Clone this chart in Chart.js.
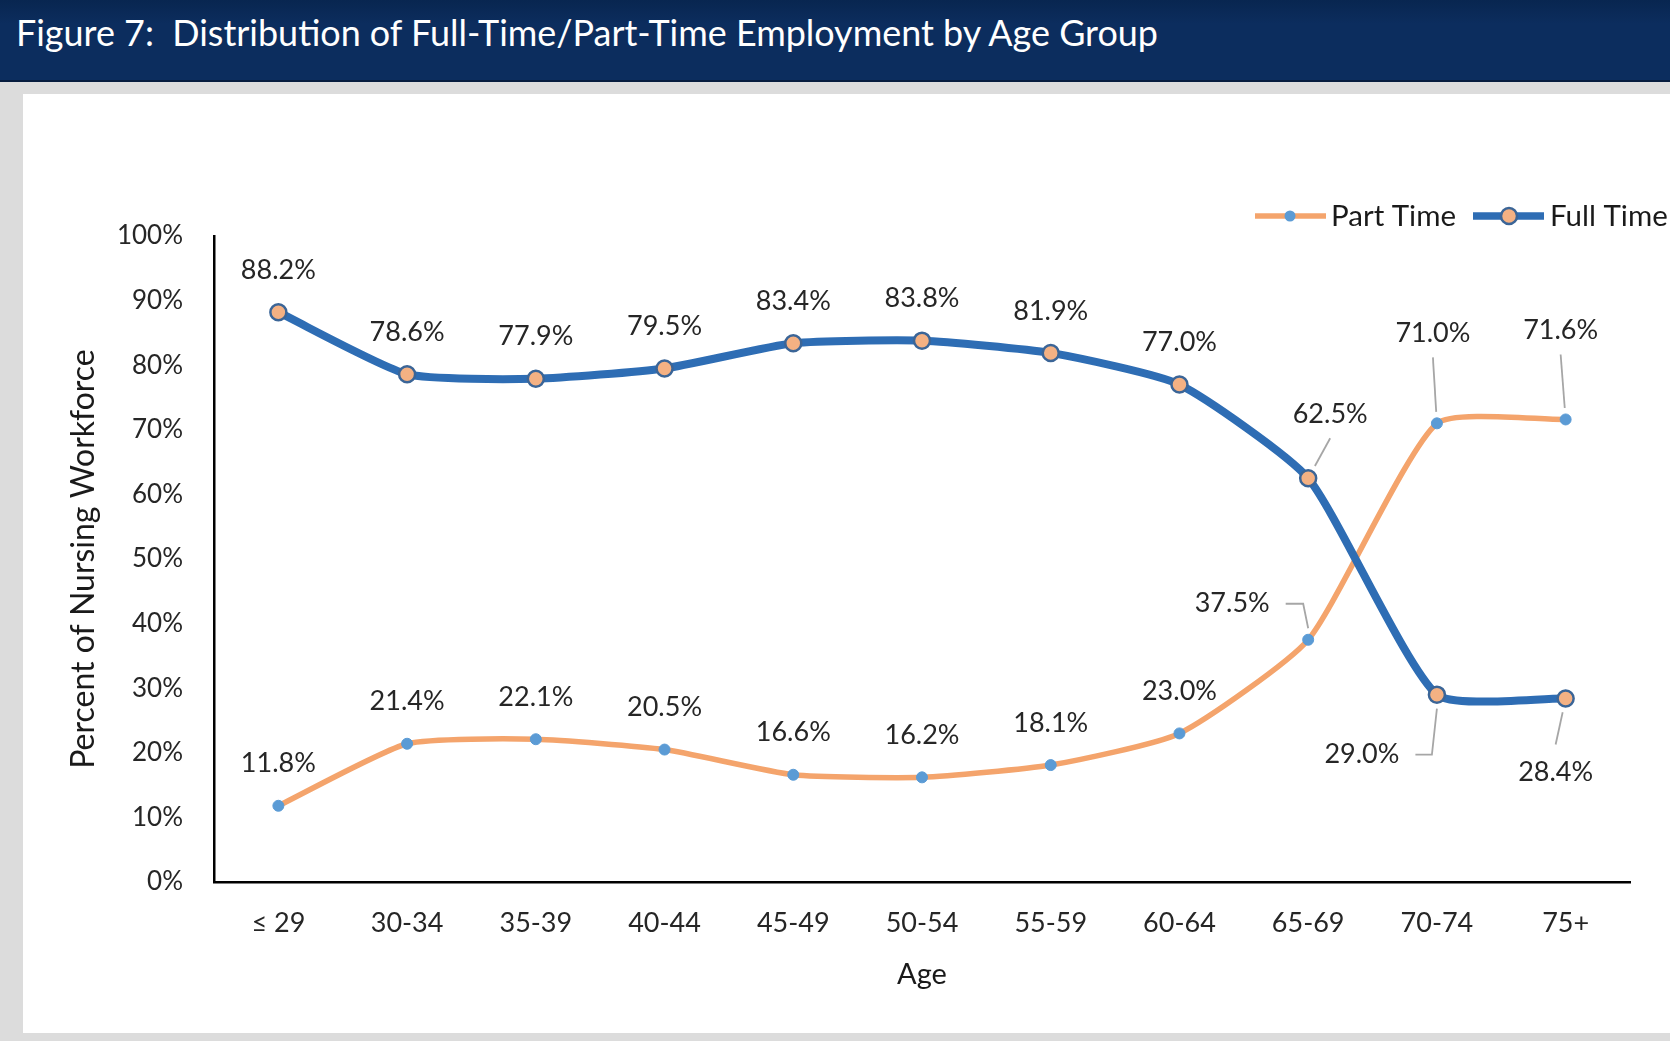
<!DOCTYPE html>
<html>
<head>
<meta charset="utf-8">
<script src="https://cdn.jsdelivr.net/npm/chart.js@4.4.1/dist/chart.umd.min.js"></script>
<style>
  html, body { margin: 0; padding: 0; }
  body { width: 1670px; height: 1041px; background: #dcdcdc; position: relative; overflow: hidden; font-family: Lato, sans-serif; }
  #header { position: absolute; left: 0; top: 0; width: 1670px; height: 80px; background: linear-gradient(#082650, #0c2d5e 30%, #0c2d5e); border-bottom: 2px solid #061c3e; }
  #title { position: absolute; left: 16px; top: 9px; color: #fff; font-size: 37px; white-space: nowrap; transform-origin: left center; }
  #panel { position: absolute; left: 23px; top: 94px; width: 1647px; height: 939px; background: #fff; }
  #chart { position: absolute; left: 0; top: 0; }
</style>
</head>
<body>
<div id="header"><span id="title">Figure 7:&nbsp; Distribution of Full-Time/Part-Time Employment by Age Group</span></div>
<div id="panel"></div>
<canvas id="chart" width="1670" height="1041"></canvas>
<script>
const ageGroups = ['≤ 29', '30-34', '35-39', '40-44', '45-49', '50-54', '55-59', '60-64', '65-69', '70-74', '75+'];
const fullTime = [88.2, 78.6, 77.9, 79.5, 83.4, 83.8, 81.9, 77.0, 62.5, 29.0, 28.4];
const partTime = [11.8, 21.4, 22.1, 20.5, 16.6, 16.2, 18.1, 23.0, 37.5, 71.0, 71.6];
const yTicks = [0, 10, 20, 30, 40, 50, 60, 70, 80, 90, 100];

// label placement (pixels from the point), and which ones get a leader line
const fullLabelPos = {8: [22, -64], 9: [-75, 60], 10: [-10, 74]};
const partLabelPos = {8: [-76, -36], 9: [-4, -90], 10: [-5, -89]};
const fullLeaders = {8: 'line', 9: 'elbow', 10: 'line'};
const partLeaders = {8: 'elbow', 9: 'line', 10: 'line'};

const BLUE = '#2e6db4';
const ORANGE = '#f4a46c';
const FONT = 'Lato, sans-serif';

// fit title to the width it has in the figure
(function () {
    var t = document.getElementById('title');
    var w = t.getBoundingClientRect().width;
    t.style.transform = 'scaleX(' + (1142 / w) + ')';
})();

function drawLeader(ctx, lx, ly, w, pt, r, type) {
    ctx.strokeStyle = '#a6a6a6';
    ctx.lineWidth = 1.8;
    ctx.beginPath();
    if (type === 'elbow') {
        var sx = lx + w / 2 + 16;
        var hx = pt.x - 5;
        ctx.moveTo(sx, ly);
        ctx.lineTo(hx, ly);
        var dy = pt.y > ly ? -(r + 6) : (r + 6);
        ctx.lineTo(pt.x, pt.y + dy);
    } else {
        var sy = pt.y > ly ? ly + 24 : ly - 28;
        var dx = pt.x - lx, dyy = pt.y - sy;
        var len = Math.sqrt(dx * dx + dyy * dyy);
        var k = (len - r - 6) / len;
        ctx.moveTo(lx, sy);
        ctx.lineTo(lx + dx * k, sy + dyy * k);
    }
    ctx.stroke();
}

const valueLabels = {
    id: 'valueLabels',
    afterDatasetsDraw(chart) {
        const ctx = chart.ctx;
        ctx.save();
        ctx.font = '27px ' + FONT;
        ctx.textAlign = 'center';
        ctx.textBaseline = 'middle';
        chart.data.datasets.forEach(function (ds, di) {
            const meta = chart.getDatasetMeta(di);
            meta.data.forEach(function (pt, i) {
                const o = ds.labelPos[i] || [0, -42];
                const lx = pt.x + o[0], ly = pt.y + o[1];
                const txt = ds.data[i].toFixed(1) + '%';
                const w = ctx.measureText(txt).width;
                if (ds.leaders[i]) drawLeader(ctx, lx, ly, w, pt, ds.pointRadius, ds.leaders[i]);
                ctx.fillStyle = '#262626';
                ctx.fillText(txt, lx, ly);
            });
        });
        ctx.restore();
    }
};

const legendBox = {
    id: 'legendBox',
    afterDraw(chart) {
        const ctx = chart.ctx;
        const y = 216;
        ctx.save();
        // Part Time
        ctx.strokeStyle = ORANGE;
        ctx.lineWidth = 5.5;
        ctx.beginPath(); ctx.moveTo(1255, y); ctx.lineTo(1326, y); ctx.stroke();
        ctx.fillStyle = '#5b9bd5';
        ctx.beginPath(); ctx.arc(1290, y, 5.5, 0, Math.PI * 2); ctx.fill();
        // Full Time
        ctx.strokeStyle = BLUE;
        ctx.lineWidth = 7.5;
        ctx.beginPath(); ctx.moveTo(1473, y); ctx.lineTo(1544, y); ctx.stroke();
        ctx.fillStyle = '#f4b183';
        ctx.lineWidth = 2.5;
        ctx.strokeStyle = '#3b6597';
        ctx.beginPath(); ctx.arc(1509, y, 8, 0, Math.PI * 2); ctx.fill(); ctx.stroke();

        ctx.fillStyle = '#1a1a1a';
        ctx.font = '29.5px ' + FONT;
        ctx.textBaseline = 'middle';
        ctx.textAlign = 'left';
        ctx.fillText('Part Time', 1331, y);
        ctx.fillText('Full Time', 1550, y);
        ctx.restore();
    }
};

new Chart(document.getElementById('chart'), {
    type: 'line',
    data: {
        labels: ageGroups,
        datasets: [{
            label: 'Full Time',
            data: fullTime,
            borderColor: BLUE,
            borderWidth: 8,
            pointRadius: 8,
            pointBackgroundColor: '#f4b183',
            pointBorderColor: '#3b6597',
            pointBorderWidth: 2.5,
            tension: 0.18,
            labelPos: fullLabelPos,
            leaders: fullLeaders
        }, {
            label: 'Part Time',
            data: partTime,
            borderColor: ORANGE,
            borderWidth: 5.5,
            pointRadius: 5.5,
            pointBackgroundColor: '#5b9bd5',
            pointBorderColor: '#5b9bd5',
            pointBorderWidth: 1,
            tension: 0.18,
            labelPos: partLabelPos,
            leaders: partLeaders
        }]
    },
    options: {
        responsive: false,
        animation: false,
        layout: {
            padding: {top: 236, right: 40, bottom: 39, left: 40}
        },
        plugins: {
            legend: {display: false},
            tooltip: {enabled: false}
        },
        scales: {
            x: {
                offset: true,
                grid: {display: false, drawTicks: false},
                border: {display: true, color: '#000', width: 2.5},
                ticks: {color: '#262626', font: {family: FONT, size: 27}, padding: 25, maxRotation: 0},
                title: {display: true, text: 'Age', color: '#1a1a1a', font: {family: FONT, size: 29}, padding: {top: 0, bottom: 10}},
                afterFit: function (scale) { scale.height = 120; }
            },
            y: {
                min: 0,
                max: 100,
                grid: {display: false, drawTicks: false},
                border: {display: true, color: '#000', width: 2.5},
                afterBuildTicks: function (scale) {
                    scale.ticks = yTicks.map(function (v) { return {value: v}; });
                },
                ticks: {
                    color: '#262626',
                    font: {family: FONT, size: 26},
                    padding: 31,
                    callback: function (v) { return v + '%'; }
                },
                title: {display: true, text: 'Percent of Nursing Workforce', color: '#1a1a1a', font: {family: FONT, size: 32}, padding: {top: 24, bottom: 0}},
                afterFit: function (scale) { scale.width = 174; }
            }
        }
    },
    plugins: [valueLabels, legendBox]
});
</script>
</body>
</html>
